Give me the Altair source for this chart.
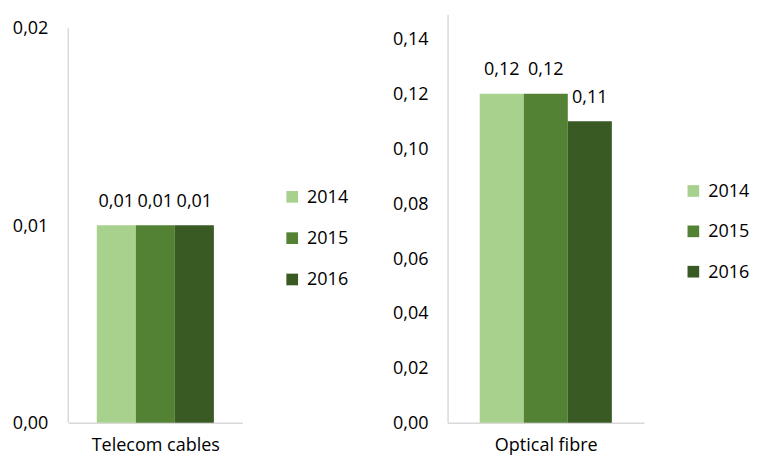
import altair as alt
import pandas as pd

years = ["2014", "2015", "2016"]
colors = ["#A9D18E", "#548235", "#3A5A24"]
telecom_values = [0.01, 0.01, 0.01]
optical_values = [0.12, 0.12, 0.11]
telecom_ticks = [0.0, 0.01, 0.02]
optical_ticks = [0.0, 0.02, 0.04, 0.06, 0.08, 0.10, 0.12, 0.14]

FONT = "Open Sans"
FS = 18.5
FMT = "replace(format(datum.value, '.2f'), '.', ',')"
GRAY = "#D9D9D9"


def panel(values, name, ymax, ticks, width, height, legend_x, legend_y, row_pad,
          label_pad, axis_top=None):
    df = pd.DataFrame({"year": years, "value": values})
    base = alt.Chart(df).transform_calculate(label=FMT)
    x = alt.X(
        "year:N",
        title=name,
        scale=alt.Scale(paddingInner=0, paddingOuter=0.73),
        axis=alt.Axis(labels=False, ticks=False, domainColor=GRAY, domainWidth=1.5,
                      titleFontSize=FS, titleFont=FONT, titleFontWeight="normal",
                      titleColor="#000000", titlePadding=14),
    )
    y = alt.Y(
        "value:Q",
        title=None,
        scale=alt.Scale(domain=[0, ymax], nice=False, zero=True),
        axis=alt.Axis(values=ticks, labelExpr=FMT, ticks=False, grid=False,
                      domain=axis_top is None,
                      domainColor=GRAY, domainWidth=1.5, labelFontSize=FS,
                      labelFont=FONT, labelColor="#000000", labelPadding=label_pad),
    )
    bars = base.mark_bar().encode(
        x=x,
        y=y,
        color=alt.Color(
            "year:N",
            scale=alt.Scale(domain=years, range=colors),
            legend=alt.Legend(title=None, orient="none", legendX=legend_x, legendY=legend_y,
                              padding=0, symbolType="square", symbolSize=144,
                              symbolStrokeWidth=0, labelFontSize=FS, labelFont=FONT,
                              labelColor="#000000", rowPadding=row_pad, labelOffset=6),
        ),
    )
    text = base.mark_text(baseline="bottom", dy=-15, fontSize=FS, font=FONT, color="#000000").encode(
        x=alt.X("year:N"), y=alt.Y("value:Q"), text="label:N"
    )
    layers = [bars, text]
    if axis_top is not None:
        axis_line = alt.Chart(pd.DataFrame({"value": [0.0], "top": [axis_top]})).mark_rule(
            color=GRAY, strokeWidth=1.5
        ).encode(x=alt.value(0), y=alt.Y("value:Q"), y2=alt.Y2("top:Q"))
        layers.insert(0, axis_line)
    return alt.layer(*layers).properties(width=width, height=height)


left = panel(telecom_values, "Telecom cables", 0.0207, telecom_ticks, 179, 420, 221, 178.5,
             23.5, 21, axis_top=telecom_ticks[-1])
right = panel(optical_values, "Optical fibre", 0.149, optical_ticks, 202, 420, 243.5, 172.5,
              22.5, 20)

chart = (
    alt.hconcat(left, right, spacing=45)
    .resolve_scale(color="independent")
    .properties(padding={"left": 4, "top": 0, "right": 0, "bottom": 0})
    .configure_view(stroke=None)
)

chart.save("out.html", embed_options={"renderer": "svg", "actions": False})
